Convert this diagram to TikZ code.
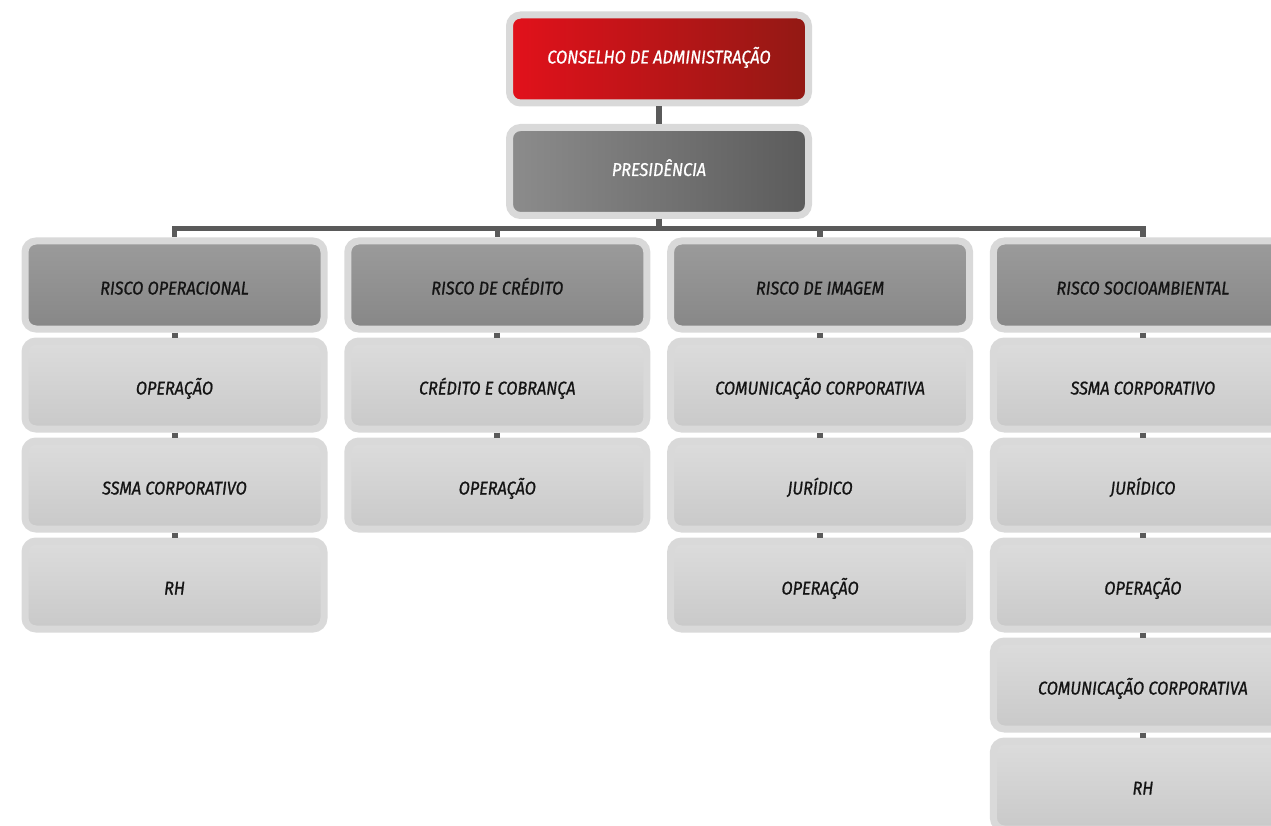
\documentclass[tikz,border=0pt]{standalone}
\usepackage{fontspec}
\setmainfont{Fira Sans}[FakeStretch=0.88,FakeBold=0.9]
\usepackage{tikz}
\usetikzlibrary{positioning}

\definecolor{frame}{HTML}{D9D9D9}
\definecolor{redL}{HTML}{E2111B}
\definecolor{redR}{HTML}{921914}
\definecolor{presL}{HTML}{8C8C8C}
\definecolor{presR}{HTML}{5B5B5B}
\definecolor{riskT}{HTML}{9B9B9B}
\definecolor{riskB}{HTML}{878787}
\definecolor{unitT}{HTML}{DCDCDC}
\definecolor{unitB}{HTML}{C9C9C9}
\definecolor{link}{HTML}{5A5A5A}
\definecolor{ink}{HTML}{141414}

\begin{document}
\begin{tikzpicture}[x=1pt,y=-1pt,node distance=100pt,link,line width=5.5pt]
  \tikzstyle{box}=[draw=frame,line width=7pt,rounded corners=11pt,
                   minimum width=299pt,minimum height=88pt,inner sep=0pt,
                   text height=12pt,text depth=3pt,
                   font=\itshape\fontsize{18.5}{22}\selectfont]
  \tikzstyle{board}=[box,left color=redL,right color=redR,text=white]
  \tikzstyle{chief}=[box,left color=presL,right color=presR,text=white]
  \tikzstyle{risk}=[box,top color=riskT,bottom color=riskB,text=ink,
                    text height=22pt]
  \tikzstyle{unit}=[risk,top color=unitT,bottom color=unitB]

  \clip (0,0) rectangle (1271,826);

  \node[board] (CA) at (659,59)                         {CONSELHO DE ADMINISTRAÇÃO};
  \node[chief] (PR) [below of=CA,node distance=112.5pt] {PRESIDÊNCIA};

  % riscos
  \node[risk] (RO) at (174.5,285)                       {RISCO OPERACIONAL};
  \node[risk] (RC) [right of=RO,node distance=322.8pt]  {RISCO DE CRÉDITO};
  \node[risk] (RI) [right of=RC,node distance=322.8pt]  {RISCO DE IMAGEM};
  \node[risk] (RS) [right of=RI,node distance=322.8pt]  {RISCO SOCIOAMBIENTAL};

  % areas
  \node[unit] (RO1) [below of=RO]  {OPERAÇÃO};
  \node[unit] (RO2) [below of=RO1] {SSMA CORPORATIVO};
  \node[unit] (RO3) [below of=RO2] {RH};

  \node[unit] (RC1) [below of=RC]  {CRÉDITO E COBRANÇA};
  \node[unit] (RC2) [below of=RC1] {OPERAÇÃO};

  \node[unit] (RI1) [below of=RI]  {COMUNICAÇÃO CORPORATIVA};
  \node[unit] (RI2) [below of=RI1] {JURÍDICO};
  \node[unit] (RI3) [below of=RI2] {OPERAÇÃO};

  \node[unit] (RS1) [below of=RS]  {SSMA CORPORATIVO};
  \node[unit] (RS2) [below of=RS1] {JURÍDICO};
  \node[unit] (RS3) [below of=RS2] {OPERAÇÃO};
  \node[unit] (RS4) [below of=RS3] {COMUNICAÇÃO CORPORATIVA};
  \node[unit] (RS5) [below of=RS4] {RH};

  \foreach \r in {RO,RC,RI,RS}
    \draw (PR.south) -- ++(0,9.5) -| (\r.north);

  \path[line width=6pt] (CA) edge (PR)
        (RO) edge (RO1) (RO1) edge (RO2) (RO2) edge (RO3)
        (RC) edge (RC1) (RC1) edge (RC2)
        (RI) edge (RI1) (RI1) edge (RI2) (RI2) edge (RI3)
        (RS) edge (RS1) (RS1) edge (RS2) (RS2) edge (RS3)
        (RS3) edge (RS4) (RS4) edge (RS5);

\end{tikzpicture}
\end{document}
